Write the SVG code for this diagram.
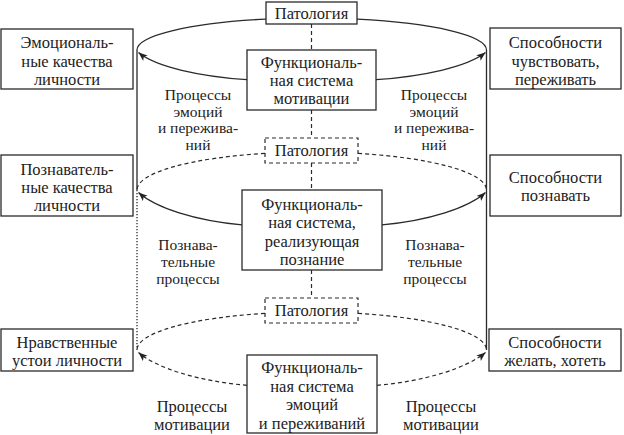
<svg xmlns="http://www.w3.org/2000/svg" width="624" height="435" viewBox="0 0 624 435">
<style>
.box{fill:#fff;stroke:#2a2a2a;stroke-width:1.3}
.dbox{fill:#fff;stroke:#2a2a2a;stroke-width:1.2;stroke-dasharray:4 3}
text{font-family:"Liberation Serif","DejaVu Serif",serif;font-size:16.5px;fill:#222;text-anchor:middle}
.s{font-size:15.5px}
.ln{fill:none;stroke:#2a2a2a;stroke-width:1.3}
.dl{fill:none;stroke:#2a2a2a;stroke-width:1.2;stroke-dasharray:4 3}
.dot{fill:none;stroke:#2a2a2a;stroke-width:1.3;stroke-dasharray:1.3 1.7}
</style>
<defs>
<marker id="ah" markerUnits="userSpaceOnUse" markerWidth="10" markerHeight="8" refX="9" refY="3.5" orient="auto">
<path d="M0,0 L9,3.5 L0,7 L2.2,3.5 z" fill="#222"/>
</marker>
</defs>
<g id="connectors">
<path class="ln" d="M266,19.1 A174.5,32 0 0 0 137,50"/>
<path class="ln" d="M357,19.1 A174.5,32 0 0 1 486.5,50"/>
<path class="ln" marker-end="url(#ah)" d="M247,79.7 C200,76.3 156,67 138.5,52.5"/>
<path class="ln" marker-end="url(#ah)" d="M376,79.7 C423,76.3 467,67 485.5,52.5"/>
<path class="dl" d="M265,153.4 A174.5,38 0 0 0 137,190"/>
<path class="dl" d="M358,153.4 A174.5,38 0 0 1 486.5,190"/>
<path class="ln" marker-end="url(#ah)" d="M242,224.9 C195,220.5 156,208 138.5,192.5"/>
<path class="ln" marker-end="url(#ah)" d="M382,224.9 C429,220.5 468,208 485.5,192.5"/>
<path class="dl" d="M265,313.4 A174.5,38 0 0 0 137,350"/>
<path class="dl" d="M358,313.4 A174.5,38 0 0 1 486.5,350"/>
<path class="dl" marker-end="url(#ah)" d="M247,385.3 C200,381.5 156,368 138.5,352.5"/>
<path class="dl" marker-end="url(#ah)" d="M377,385.3 C424,381.5 467,368 485.5,352.5"/>
<path class="ln" d="M137,50 V190"/>
<path class="dot" d="M137,190 V350"/>
<path class="ln" d="M486.5,50 V350"/>
<path class="dl" d="M311.5,24 V50 M311.5,110 V138 M311.5,163 V190 M311.5,270 V298"/>
</g>
<g id="patologiya1"><rect class="box" x="266" y="2" width="91" height="22"/><text x="311.5" y="18.5">Патология</text></g>
<g id="fs-motivation"><rect class="box" x="247" y="50" width="129" height="60"/>
<text x="311.5" y="68">Функциональ-</text><text x="311.5" y="86">ная система</text><text x="311.5" y="104">мотивации</text></g>
<g id="patologiya2"><rect class="dbox" x="265" y="138" width="93" height="25"/><text x="311.5" y="156">Патология</text></g>
<g id="fs-cognition"><rect class="box" x="242" y="190" width="140" height="80"/>
<text x="312" y="209.5">Функциональ-</text><text x="312" y="228">ная система,</text><text x="312" y="246.5">реализующая</text><text x="312" y="265">познание</text></g>
<g id="patologiya3"><rect class="dbox" x="265" y="298" width="93" height="25"/><text x="311.5" y="316">Патология</text></g>
<g id="fs-emotions"><rect class="box" x="247" y="355" width="130" height="78"/>
<text x="312" y="373">Функциональ-</text><text x="312" y="391.5">ная система</text><text x="312" y="410">эмоций</text><text x="312" y="428.5">и переживаний</text></g>
<g id="left-emotional"><rect class="box" x="1" y="29" width="132" height="60"/>
<text x="67" y="48">Эмоциональ-</text><text x="67" y="66.5">ные качества</text><text x="67" y="85">личности</text></g>
<g id="left-cognitive"><rect class="box" x="1" y="155" width="132" height="61"/>
<text x="67" y="175">Познаватель-</text><text x="67" y="193">ные качества</text><text x="67" y="211">личности</text></g>
<g id="left-moral"><rect class="box" x="1" y="329" width="132" height="42"/>
<text x="67" y="348">Нравственные</text><text x="67" y="366">устои личности</text></g>
<g id="right-feel"><rect class="box" x="490" y="28" width="131" height="61"/>
<text x="555.5" y="48">Способности</text><text x="555.5" y="66.5">чувствовать,</text><text x="555.5" y="85">переживать</text></g>
<g id="right-cognize"><rect class="box" x="490" y="155" width="131" height="61"/>
<text x="555.5" y="183">Способности</text><text x="555.5" y="201">познавать</text></g>
<g id="right-desire"><rect class="box" x="489" y="329" width="132" height="42"/>
<text x="555" y="348">Способности</text><text x="555" y="366">желать, хотеть</text></g>
<g id="labels">
<text class="s" x="198" y="100">Процессы</text><text class="s" x="198" y="116.7">эмоций</text><text class="s" x="198" y="133.4">и пережива-</text><text class="s" x="198" y="150">ний</text>
<text class="s" x="434" y="100">Процессы</text><text class="s" x="434" y="116.7">эмоций</text><text class="s" x="434" y="133.4">и пережива-</text><text class="s" x="434" y="150">ний</text>
<text class="s" x="188" y="250">Познава-</text><text class="s" x="188" y="267">тельные</text><text class="s" x="188" y="283.5">процессы</text>
<text class="s" x="435" y="250">Познава-</text><text class="s" x="435" y="267">тельные</text><text class="s" x="435" y="283.5">процессы</text>
<text x="192" y="412">Процессы</text><text x="192" y="430">мотивации</text>
<text x="441" y="412">Процессы</text><text x="441" y="430">мотивации</text>
</g>
</svg>
